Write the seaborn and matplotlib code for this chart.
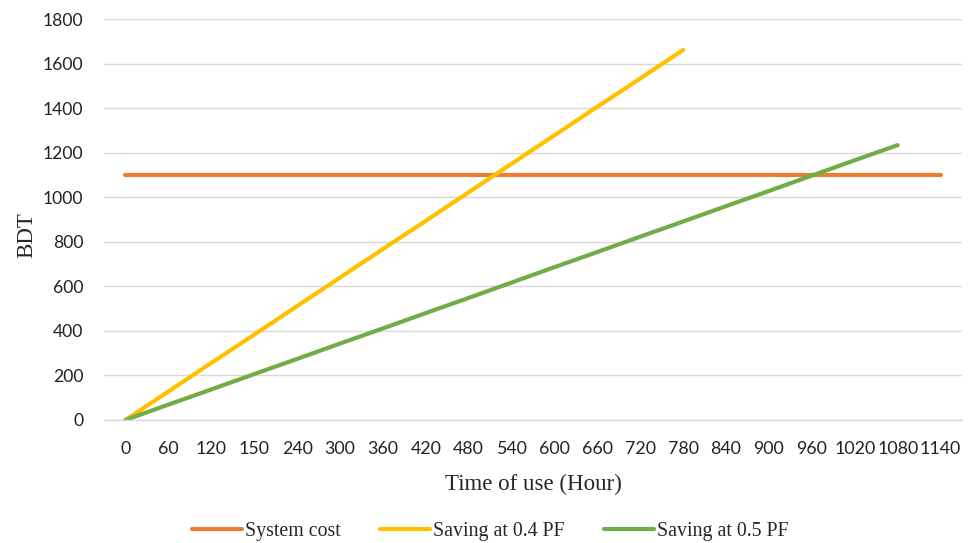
import numpy as np
import pandas as pd
import matplotlib
matplotlib.use("Agg")
import matplotlib.pyplot as plt
import seaborn as sns

# Category labels of the time axis (hours)
hours = ["0", "60", "120", "150", "240", "300", "360", "420", "480", "540",
         "600", "660", "720", "780", "840", "900", "960", "1020", "1080", "1140"]

system_cost = [1100] * 20
saving_04pf = [0, 128, 256, 383, 511, 639, 767, 894, 1022, 1150,
               1278, 1406, 1533, 1661]
saving_05pf = [0, 69, 137, 206, 274, 343, 411, 480, 548, 617,
               686, 754, 823, 891, 960, 1028, 1097, 1166, 1234]

series = [
    ("System cost", system_cost, "#ED7D31"),
    ("Saving at 0.4 PF", saving_04pf, "#FFC000"),
    ("Saving at 0.5 PF", saving_05pf, "#70AD47"),
]

sns.set_style("white")
fig = plt.figure(figsize=(9.73, 5.43), dpi=100)
ax = fig.add_axes([104 / 973, 1 - 420 / 543, (962 - 104) / 973, (420 - 19) / 543])

for name, vals, color in series:
    df = pd.DataFrame({"pos": np.arange(len(vals)), "value": vals})
    sns.lineplot(data=df, x="pos", y="value", ax=ax, color=color, linewidth=3.0,
                 label=name, solid_capstyle="round")

ax.set_xlim(-0.5, len(hours) - 0.5)
ax.set_ylim(0, 1800)
ax.set_yticks(np.arange(0, 1801, 200))
ax.yaxis.grid(True, color="#D9D9D9", linewidth=1.0)
ax.set_axisbelow(True)

# category labels centred in slots, tick marks on slot boundaries
ax.set_xticks(np.arange(len(hours)))
ax.set_xticklabels(hours)
ax.set_xticks(np.arange(-0.5, len(hours)), minor=True)
ax.tick_params(axis="x", which="major", length=0, pad=15, labelsize=12.8)
ax.tick_params(axis="x", which="minor", length=5, color="#D9D9D9", width=1)
ax.tick_params(axis="y", length=0, pad=15, labelsize=12.6)
for lab in ax.get_xticklabels() + ax.get_yticklabels():
    lab.set_fontfamily("Lato")
    lab.set_color("#222222")

for side in ["top", "right", "left"]:
    ax.spines[side].set_visible(False)
ax.spines["bottom"].set_color("#D9D9D9")
ax.spines["bottom"].set_linewidth(1.0)

ax.set_xlabel("Time of use (Hour)", fontfamily="Liberation Serif", fontsize=16.5,
              labelpad=12)
ax.set_ylabel("BDT", fontfamily="Liberation Serif", fontsize=16.5)
ax.yaxis.set_label_coords(-0.078, 0.46)

ax.legend(loc="center", bbox_to_anchor=(0.45, -0.278), ncol=3, frameon=False,
          prop={"family": "Liberation Serif", "size": 14.3}, handlelength=2.5,
          handletextpad=0.15, columnspacing=2.0)

fig.savefig("out.png", dpi=100)
